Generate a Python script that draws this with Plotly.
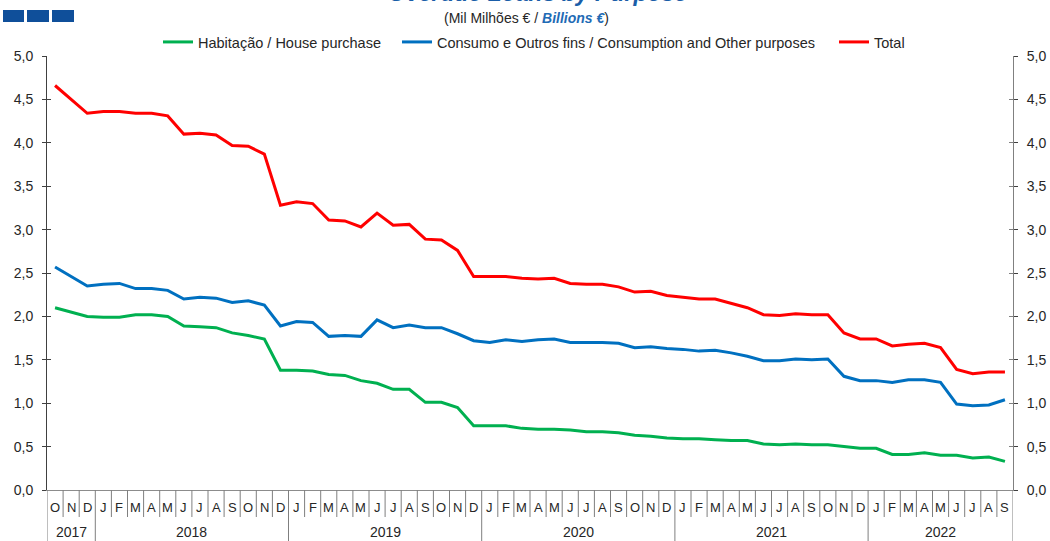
import plotly.graph_objects as go

# ---- data ----
years = ["2017", "2018", "2019", "2020", "2021", "2022"]
months_per_year = [
    ["O", "N", "D"],
    list("JFMAMJJASOND"),
    list("JFMAMJJASOND"),
    list("JFMAMJJASOND"),
    list("JFMAMJJASOND"),
    list("JFMAMJJAS"),
]

habitacao = [
    2.10, 2.05, 2.00,
    1.99, 1.99, 2.02, 2.02, 2.00, 1.89, 1.88, 1.87, 1.81, 1.78, 1.74, 1.38,
    1.38, 1.37, 1.33, 1.32, 1.26, 1.23, 1.16, 1.16, 1.01, 1.01, 0.95, 0.74,
    0.74, 0.74, 0.71, 0.70, 0.70, 0.69, 0.67, 0.67, 0.66, 0.63, 0.62, 0.60,
    0.59, 0.59, 0.58, 0.57, 0.57, 0.53, 0.52, 0.53, 0.52, 0.52, 0.50, 0.48,
    0.48, 0.41, 0.41, 0.43, 0.40, 0.40, 0.37, 0.38, 0.33,
]
consumo = [
    2.57, 2.46, 2.35,
    2.37, 2.38, 2.32, 2.32, 2.30, 2.20, 2.22, 2.21, 2.16, 2.18, 2.13, 1.89,
    1.94, 1.93, 1.77, 1.78, 1.77, 1.96, 1.87, 1.90, 1.87, 1.87, 1.80, 1.72,
    1.70, 1.73, 1.71, 1.73, 1.74, 1.70, 1.70, 1.70, 1.69, 1.64, 1.65, 1.63,
    1.62, 1.60, 1.61, 1.58, 1.54, 1.49, 1.49, 1.51, 1.50, 1.51, 1.31, 1.26,
    1.26, 1.24, 1.27, 1.27, 1.24, 0.99, 0.97, 0.98, 1.04,
]
total = [
    4.66, 4.50, 4.34,
    4.36, 4.36, 4.34, 4.34, 4.31, 4.10, 4.11, 4.09, 3.97, 3.96, 3.87, 3.28,
    3.32, 3.30, 3.11, 3.10, 3.03, 3.19, 3.05, 3.06, 2.89, 2.88, 2.76, 2.46,
    2.46, 2.46, 2.44, 2.43, 2.44, 2.38, 2.37, 2.37, 2.34, 2.28, 2.29, 2.24,
    2.22, 2.20, 2.20, 2.15, 2.10, 2.02, 2.01, 2.03, 2.02, 2.02, 1.81, 1.74,
    1.74, 1.66, 1.68, 1.69, 1.64, 1.39, 1.34, 1.36, 1.36,
]
y_ticks = [0.0, 0.5, 1.0, 1.5, 2.0, 2.5, 3.0, 3.5, 4.0, 4.5, 5.0]

# ---- derived positions ----
month_labels = [m for ms in months_per_year for m in ms]
xs = list(range(len(month_labels)))
n = len(xs)

W, H = 1050, 541
ML, MR, MT, MB = 47, 37, 56, 51
PW, PH = W - ML - MR, H - MT - MB

def py(px_from_top):
    return 1 - (px_from_top - MT) / PH

def px(px_from_left):
    return (px_from_left - ML) / PW

FONT = "Liberation Sans, Arial, sans-serif"
GREEN, BLUE, RED = "#00B050", "#0070C0", "#FF0000"

fig = go.Figure()
fig.add_trace(go.Scatter(x=xs, y=habitacao, mode="lines", name="Habitação / House purchase",
                         line=dict(color=GREEN, width=3), legend="legend", yaxis="y"))
fig.add_trace(go.Scatter(x=xs, y=consumo, mode="lines",
                         name="Consumo e Outros fins / Consumption and Other purposes",
                         line=dict(color=BLUE, width=3), legend="legend2", yaxis="y2"))
fig.add_trace(go.Scatter(x=xs, y=total, mode="lines", name="Total",
                         line=dict(color=RED, width=3), legend="legend3", yaxis="y3"))

shapes = []
annotations = []

# month separators and year separators
acc = 0
year_bounds = []
for ms in months_per_year:
    year_bounds.append((acc, acc + len(ms)))
    acc += len(ms)
year_edges = {b for pair in year_bounds for b in pair}
for k in range(0, n + 1):
    x = k - 0.5
    y1 = -MB / PH if k in year_edges else -27 / PH
    shapes.append(dict(type="line", xref="x", yref="paper", x0=x, x1=x, y0=0, y1=y1,
                       line=dict(color="#7f7f7f", width=1)))

for i, m in enumerate(month_labels):
    annotations.append(dict(x=i, y=-17 / PH, xref="x", yref="paper", text=m, showarrow=False,
                            font=dict(family=FONT, size=13, color="#262626"),
                            xanchor="center", yanchor="middle"))
for yr, (a, b) in zip(years, year_bounds):
    annotations.append(dict(x=(a + b - 1) / 2, y=-42 / PH, xref="x", yref="paper", text=yr,
                            showarrow=False, font=dict(family=FONT, size=14, color="#262626"),
                            xanchor="center", yanchor="middle"))

# header decorations
for x0, x1 in [(3, 24), (27, 49), (52, 74)]:
    shapes.append(dict(type="rect", xref="paper", yref="paper", x0=px(x0), x1=px(x1),
                       y0=py(22), y1=py(10), fillcolor="#0F4F9A", line=dict(width=0)))

annotations.append(dict(x=px(537), y=py(8), xref="paper", yref="paper",
                        text="<b><i>Overdue Loans by Purpose</i></b>", showarrow=False,
                        font=dict(family=FONT, size=23, color="#1A5EA8"),
                        xanchor="center", yanchor="bottom"))
annotations.append(dict(x=px(526), y=py(18), xref="paper", yref="paper",
                        text="(Mil Milhões € / <b><i><span style='color:#1F6BB5'>Billions €</span></i></b>)",
                        showarrow=False, font=dict(family=FONT, size=14, color="#262626"),
                        xanchor="center", yanchor="middle"))

legend_common = dict(orientation="h", yanchor="middle", y=py(42), xanchor="left",
                     font=dict(family=FONT, size=14.5, color="#262626"),
                     bgcolor="rgba(0,0,0,0)", borderwidth=0, itemwidth=30,
                     tracegroupgap=0)

tickfont = dict(family=FONT, size=14, color="#262626")

fig.update_layout(
    width=W, height=H,
    margin=dict(l=ML, r=MR, t=MT, b=MB, pad=0, autoexpand=False),
    paper_bgcolor="white", plot_bgcolor="white",
    separators=",.",
    font=dict(family=FONT, size=13, color="#262626"),
    xaxis=dict(range=[-0.5, n - 0.5], showticklabels=False, ticks="", showgrid=False,
               zeroline=False, showline=True, linecolor="#8c8c8c", linewidth=1, fixedrange=True),
    yaxis=dict(range=[0, 5], tickvals=y_ticks, tickformat=".1f", showgrid=False,
               zeroline=False, showline=True, mirror="ticks", ticks="outside", ticklen=4,
               side="left", linecolor="#404040", tickcolor="#404040",
               tickfont=tickfont, ticklabelstandoff=6, fixedrange=True),
    yaxis2=dict(range=[0, 5], tickvals=y_ticks, tickformat=".1f", showgrid=False,
                zeroline=False, showline=True, ticks="inside", ticklen=4,
                side="right", overlaying="y", linecolor="#808080", tickcolor="#808080",
                tickfont=tickfont, ticklabelstandoff=10, fixedrange=True),
    yaxis3=dict(range=[0, 5], tickvals=y_ticks, showticklabels=False, showgrid=False,
                zeroline=False, showline=False, ticks="inside", ticklen=4,
                tickcolor="#404040", side="left", overlaying="y", fixedrange=True),
    legend=dict(**legend_common, x=px(158)),
    legend2=dict(**legend_common, x=px(397)),
    legend3=dict(**legend_common, x=px(834)),
    shapes=shapes,
    annotations=annotations,
    showlegend=True,
)

fig.write_html("out.html",
               config={"displayModeBar": False},
               post_script="document.body.style.margin='0';document.body.style.overflow='hidden';")
